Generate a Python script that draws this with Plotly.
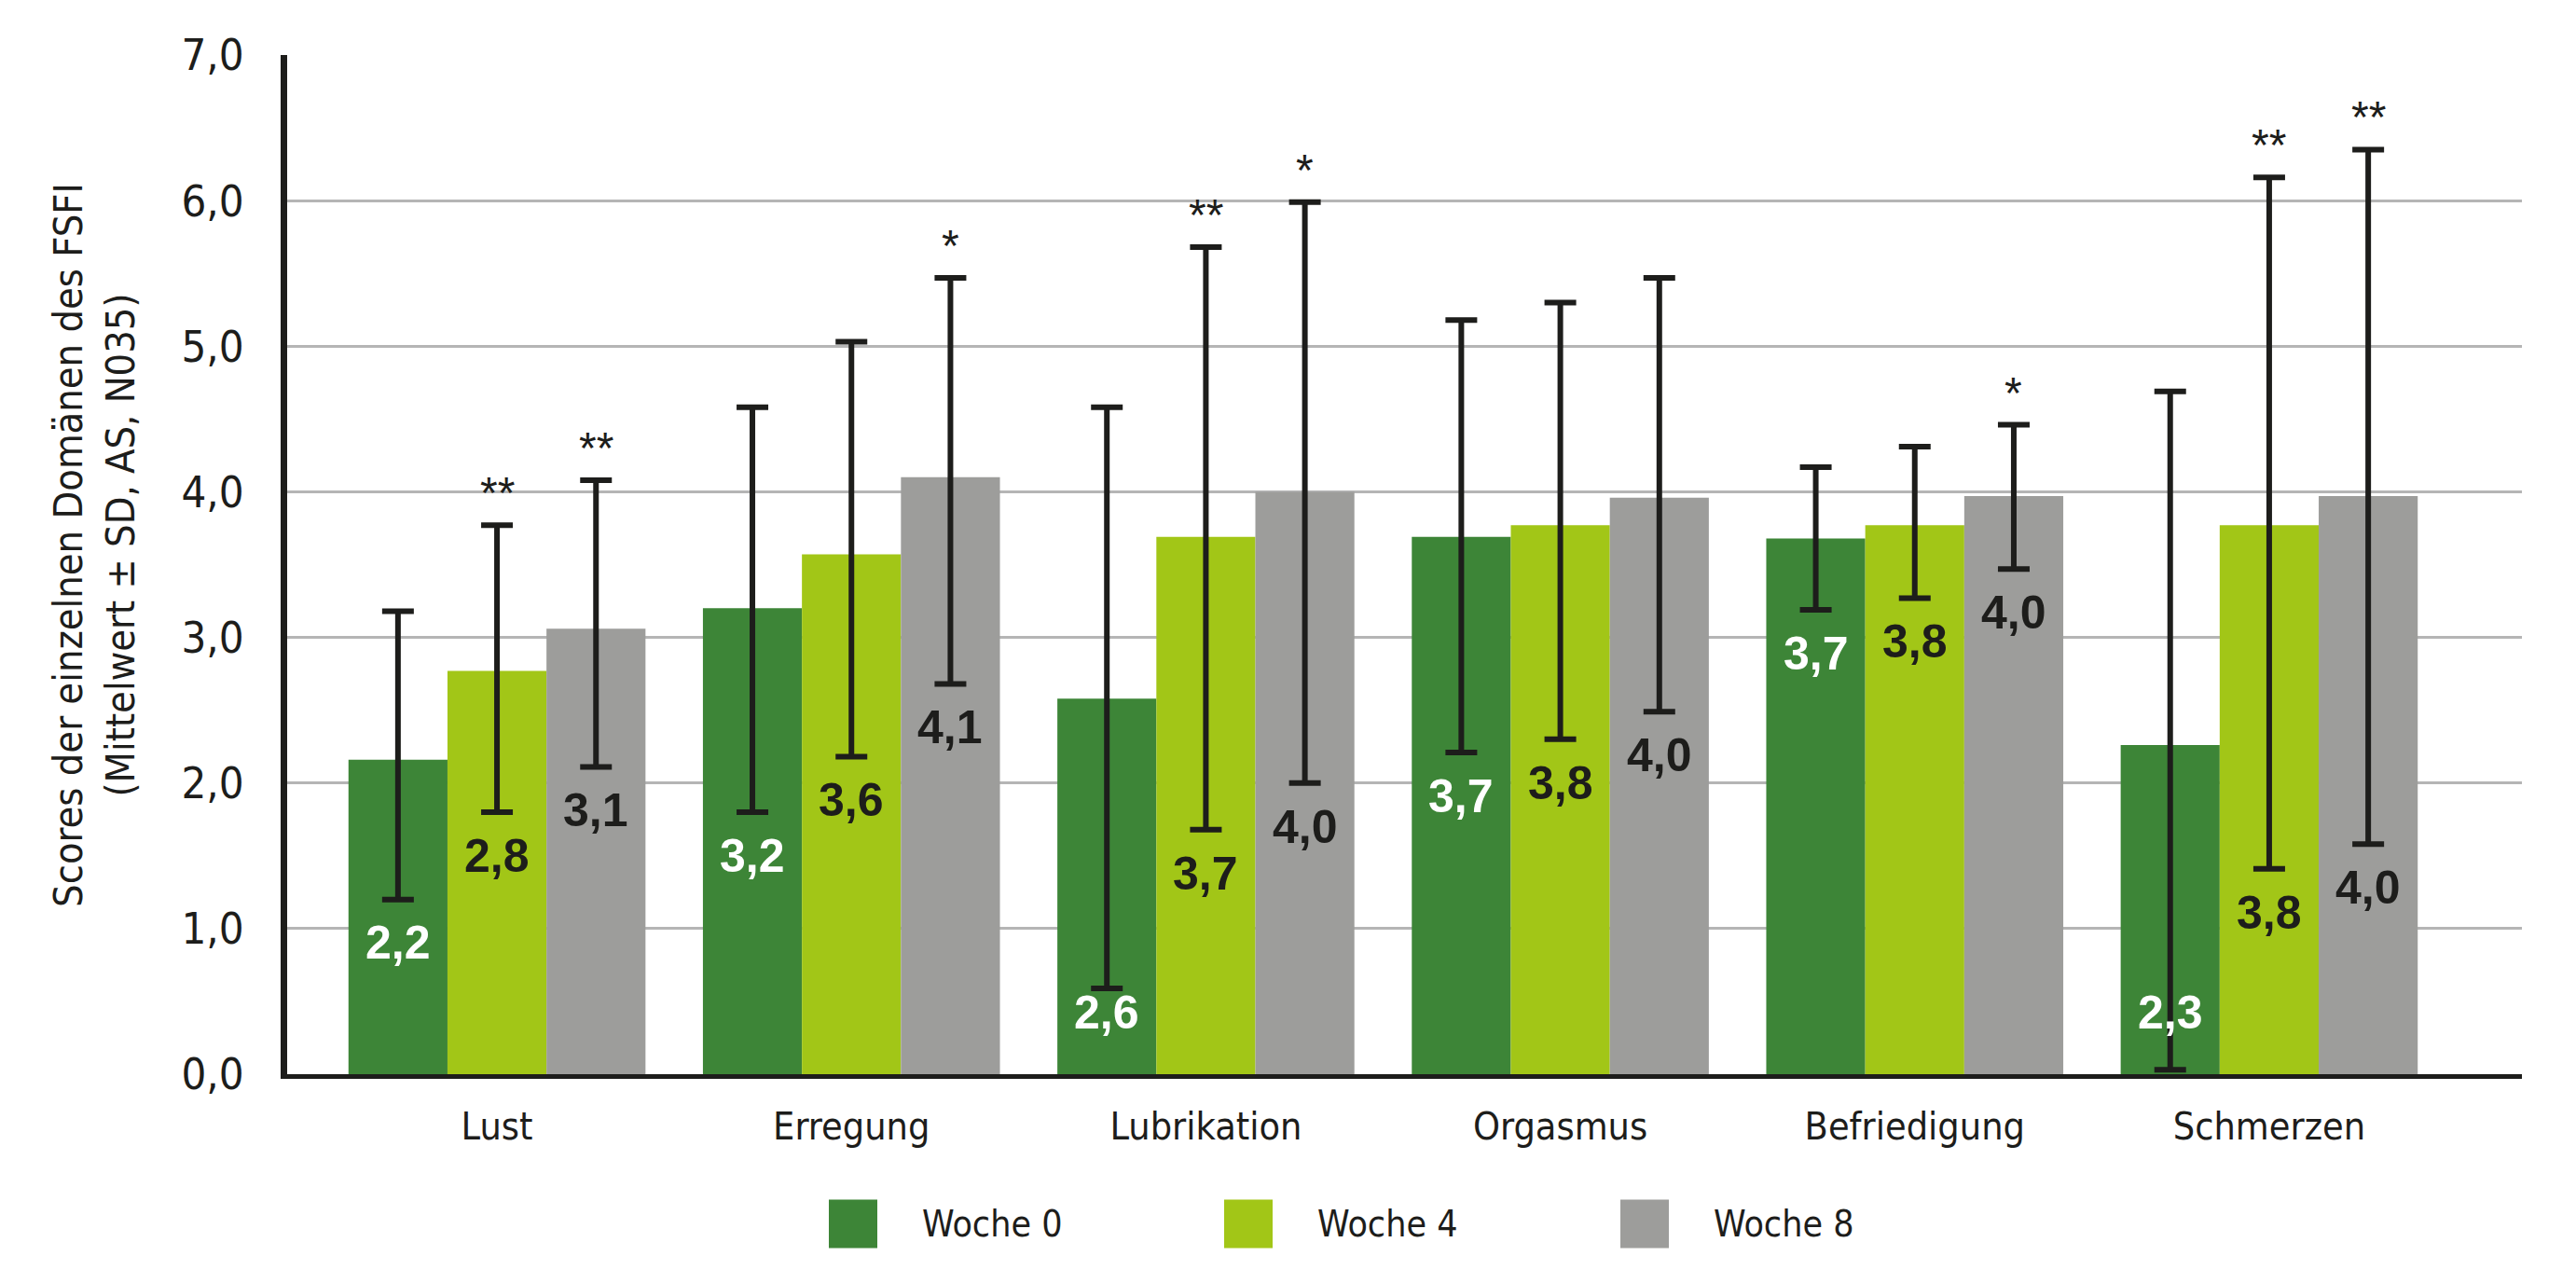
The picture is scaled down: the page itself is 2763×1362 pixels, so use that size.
import plotly.graph_objects as go

# ---------------- data ----------------
categories = ["Lust", "Erregung", "Lubrikation", "Orgasmus", "Befriedigung", "Schmerzen"]
series_names = ["Woche 0", "Woche 4", "Woche 8"]

woche0 = [2.16, 3.20, 2.58, 3.69, 3.68, 2.26]
woche4 = [2.77, 3.57, 3.69, 3.77, 3.77, 3.77]
woche8 = [3.06, 4.10, 4.00, 3.96, 3.97, 3.97]

woche0_low = [1.20, 1.80, 0.59, 2.21, 3.19, 0.03]
woche0_high = [3.18, 4.58, 4.58, 5.18, 4.17, 4.69]
woche4_low = [1.80, 2.18, 1.68, 2.30, 3.27, 1.41]
woche4_high = [3.77, 5.03, 5.68, 5.30, 4.31, 6.16]
woche8_low = [2.11, 2.68, 2.00, 2.49, 3.47, 1.58]
woche8_high = [4.08, 5.47, 5.99, 5.47, 4.46, 6.35]

woche0_sig = ["", "", "", "", "", ""]
woche4_sig = ["**", "", "**", "", "", "**"]
woche8_sig = ["**", "*", "*", "", "*", "**"]

y_tick_values = [0, 1, 2, 3, 4, 5, 6, 7]
y_title = "Scores der einzelnen Domänen des FSFI<br>(Mittelwert ± SD, AS, N035)"

# ---------------- style ----------------
PAGE_W, PAGE_H = 2763, 1362
BODY = 8  # default page margin around the figure div
W, H = PAGE_W - 2 * BODY, PAGE_H - 2 * BODY
# plot area in page pixels
P_LEFT, P_RIGHT, P_TOP, P_BOTTOM = 308, 2705, 58.8, 1152.4
ML = P_LEFT - BODY
MR = W - (P_RIGHT - BODY)
MT = P_TOP - BODY
MB = H - (P_BOTTOM - BODY)
PW, PH = P_RIGHT - P_LEFT, P_BOTTOM - P_TOP

colors = ["#3d8537", "#a2c617", "#9d9d9b"]
label_colors = ["#ffffff", "#1d1d1b", "#1d1d1b"]
dark = "#1d1d1b"
narrow = "DejaVu Sans Condensed, Liberation Sans Narrow, sans-serif"
bold_font = "Liberation Sans, Arial, sans-serif"

BARGAP = 0.162
bar_w = (1 - BARGAP) / 3
offsets = [-bar_w, 0.0, bar_w]

values = [woche0, woche4, woche8]
lows = [woche0_low, woche4_low, woche8_low]
highs = [woche0_high, woche4_high, woche8_high]
sigs = [woche0_sig, woche4_sig, woche8_sig]

fig = go.Figure()
for k in range(3):
    v = values[k]
    fig.add_trace(go.Bar(
        name=series_names[k],
        x=categories,
        y=v,
        marker=dict(color=colors[k], line=dict(width=0)),
        error_y=dict(
            type="data", symmetric=False,
            array=[h - a for h, a in zip(highs[k], v)],
            arrayminus=[a - l for a, l in zip(v, lows[k])],
            color=dark, thickness=6, width=17,
        ),
        showlegend=False,
        hoverinfo="skip",
    ))

annotations = []
for k in range(3):
    for i in range(len(categories)):
        v = values[k][i]
        txt = f"{v:.1f}".replace(".", ",")
        ly = max(lows[k][i] - 0.3, 0.42)
        annotations.append(dict(
            x=i + offsets[k], y=ly, xref="x", yref="y",
            text=txt, showarrow=False, xanchor="center", yanchor="middle",
            font=dict(family=bold_font, size=50, color=label_colors[k], weight="bold"),
        ))
        if sigs[k][i]:
            annotations.append(dict(
                x=i + offsets[k], y=highs[k][i], xref="x", yref="y",
                text=sigs[k][i], showarrow=False, xanchor="center", yanchor="bottom",
                yshift=6,
                font=dict(family="Liberation Sans, Arial, sans-serif", size=48, color=dark),
            ))


def px_x(px):
    """page pixel x -> paper x"""
    return (px - P_LEFT) / PW


def px_y(py):
    """page pixel y -> paper y"""
    return (P_BOTTOM - py) / PH


# y-axis title
annotations.append(dict(
    x=px_x(101), y=px_y(585), xref="paper", yref="paper",
    text=y_title, showarrow=False, textangle=-90,
    xanchor="center", yanchor="middle",
    font=dict(family=narrow, size=43, color=dark),
))

# custom legend
shapes = []
legend_left = [889, 1313, 1738]
sw = 52
legend_cy = 1313
for k in range(3):
    shapes.append(dict(
        type="rect", xref="paper", yref="paper",
        x0=px_x(legend_left[k]), x1=px_x(legend_left[k] + sw),
        y0=px_y(legend_cy + sw / 2), y1=px_y(legend_cy - sw / 2),
        fillcolor=colors[k], line=dict(width=0),
    ))
    annotations.append(dict(
        x=px_x(legend_left[k] + 98), y=px_y(legend_cy), xref="paper", yref="paper",
        text=series_names[k], showarrow=False, xanchor="left", yanchor="middle",
        font=dict(family=narrow, size=39, color=dark),
    ))

fig.update_layout(
    width=W, height=H,
    margin=dict(l=ML, r=MR, t=MT, b=MB, autoexpand=False),
    paper_bgcolor="white", plot_bgcolor="white",
    barmode="group", bargap=BARGAP, bargroupgap=0,
    separators=",.",
    annotations=annotations,
    shapes=shapes,
    xaxis=dict(
        type="category", range=[-0.592, 5.713],
        showline=True, linecolor=dark, linewidth=5,
        ticks="", showgrid=False, zeroline=False,
        tickfont=dict(family=narrow, size=41, color=dark),
        ticklabelstandoff=16,
    ),
    yaxis=dict(
        range=[0, 7], tickvals=y_tick_values, tickformat=".1f",
        showgrid=True, gridcolor="#b5b5b5", gridwidth=2.5,
        showline=True, linecolor=dark, linewidth=7,
        zeroline=False, ticks="",
        tickfont=dict(family=narrow, size=47, color=dark),
        ticklabelstandoff=30,
    ),
)

fig.write_html("out.html")
